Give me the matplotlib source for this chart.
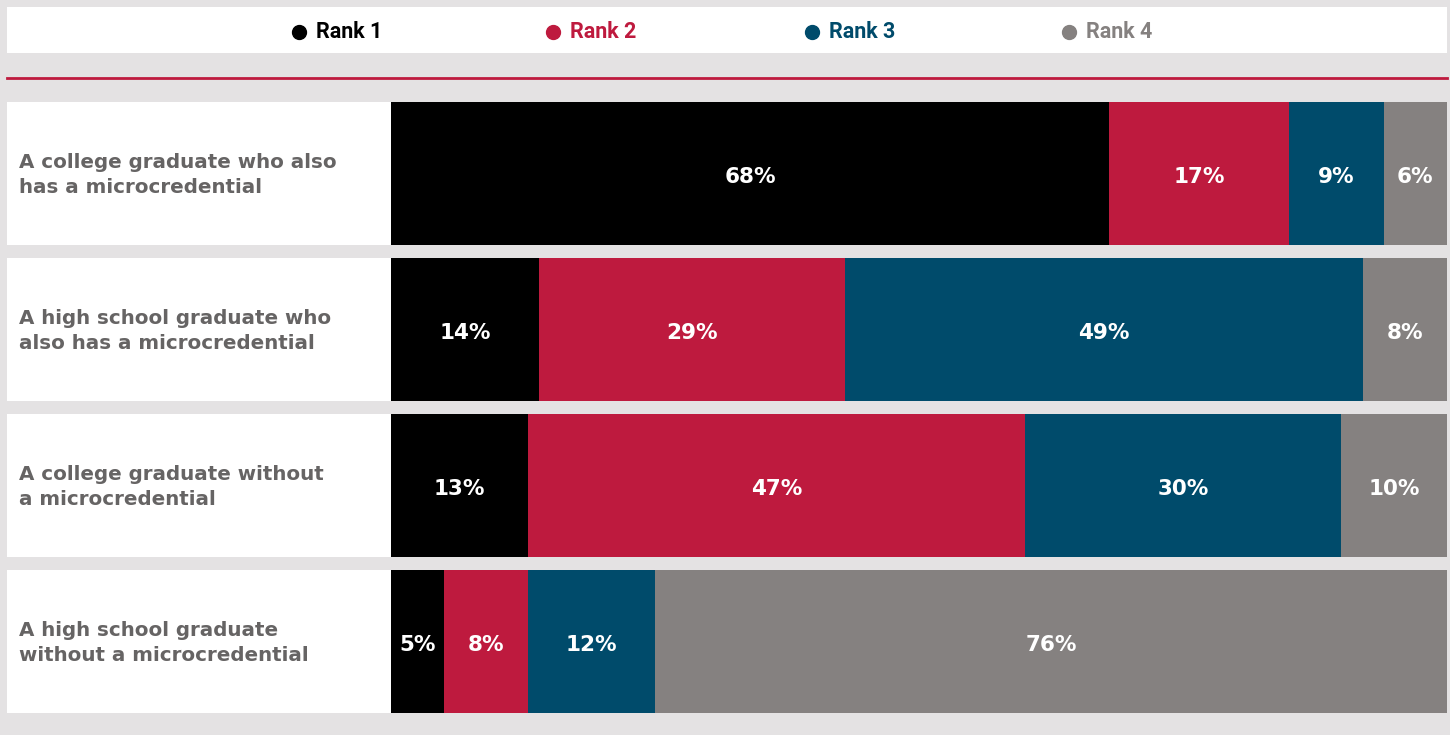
import matplotlib.pyplot as plt
from matplotlib.patches import Rectangle
from matplotlib.lines import Line2D

# survey shares of each rank, per candidate profile
profiles = [
    "A college graduate who also\nhas a microcredential",
    "A high school graduate who\nalso has a microcredential",
    "A college graduate without\na microcredential",
    "A high school graduate\nwithout a microcredential",
]
rank_names = ["Rank 1", "Rank 2", "Rank 3", "Rank 4"]
rank1 = [68, 14, 13, 5]
rank2 = [17, 29, 47, 8]
rank3 = [9, 49, 30, 12]
rank4 = [6, 8, 10, 76]

colors = ["#000000", "#be1a3e", "#004b6b", "#858180"]
bg = "#e4e2e3"
W, H = 1450, 735

fig = plt.figure(figsize=(W / 100, H / 100), dpi=100, facecolor=bg)


def px_box(x0, y0, x1, y1):
    # pixel box (top-left origin) -> figure fraction [l, b, w, h]
    return [x0 / W, 1 - y1 / H, (x1 - x0) / W, (y1 - y0) / H]


# legend strip
fig.patches.append(Rectangle((7 / W, 1 - 53 / H), 1440 / W, 46 / H,
                             transform=fig.transFigure, facecolor="white",
                             edgecolor="none", zorder=0))
legend_x = [299, 553, 812, 1069]
for name, c, lx in zip(rank_names, colors, legend_x):
    fig.add_artist(Line2D([lx / W], [1 - 32 / H], marker="o", markersize=10,
                          color=c, linestyle="none", transform=fig.transFigure))
    fig.text((lx + 17) / W, 1 - 32 / H, name, color=c, fontsize=15.5,
             fontweight="bold", family="Roboto", va="center", ha="left")

# red rule under the legend
fig.add_artist(Line2D([7 / W, 1447 / W], [1 - 78 / H, 1 - 78 / H],
                      color="#be1a3e", linewidth=2, transform=fig.transFigure))

bar_h = 143 / 156
ypos = list(range(len(profiles)))

# label column
lab_ax = fig.add_axes(px_box(7, 102, 391, 713))
lab_ax.barh(ypos, [1] * len(ypos), height=bar_h, color="white")
lab_ax.set_xlim(0, 1)
lab_ax.set_ylim(3 + bar_h / 2, -bar_h / 2)
lab_ax.axis("off")
for y, txt in zip(ypos, profiles):
    lab_ax.text(12 / 384, y + 0.01, txt, color="#666464", fontsize=14.3,
                fontweight="bold", va="center", ha="left", linespacing=1.35)

# stacked bars
ax = fig.add_axes(px_box(391, 102, 1447, 713))
left = [0] * len(profiles)
for series, c in zip([rank1, rank2, rank3, rank4], colors):
    ax.barh(ypos, series, left=left, height=bar_h, color=c, linewidth=0)
    for y, v, l in zip(ypos, series, left):
        cx = min(l + v / 2, (l + 100) / 2)
        ax.text(cx, y + 0.02, f"{v}%", color="white", fontsize=15.5,
                fontweight="bold", ha="center", va="center")
    left = [l + v for l, v in zip(left, series)]
ax.set_xlim(0, 100)
ax.set_ylim(3 + bar_h / 2, -bar_h / 2)
ax.axis("off")

fig.savefig("out.png", dpi=100, facecolor=bg)
